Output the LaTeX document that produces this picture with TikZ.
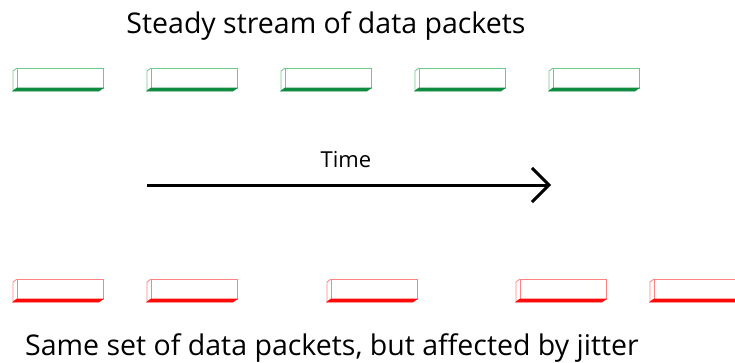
\documentclass[tikz,border=0pt]{standalone}
\usepackage{fontspec}
\setmainfont{Open Sans}
\usetikzlibrary{arrows.meta}
\definecolor{pktgreen}{RGB}{16,140,64}
\definecolor{pktgreenlt}{RGB}{110,200,140}
\definecolor{pktred}{RGB}{255,10,10}
\definecolor{pktredlt}{RGB}{255,130,130}
\tikzset{%
    caption text/.style={font=\fontsize{28.5}{32}\selectfont, anchor=base},
    packet edge/.style={line width=0.8pt, draw=#1},
}
% one packet at (#1,#2): #3 = edge colour, #4 = bottom colour
\newcommand{\packet}[4]{%
  \draw[packet edge=#3] (#1+5,#2) rectangle (#1+91,#2+20);
  \draw[packet edge=#3] (#1+5,#2) -- (#1+1,#2+3) -- (#1+1,#2+23) -- (#1+5,#2+20);
  \filldraw[line width=0.6pt,draw=#4,fill=#4] (#1+1,#2+23) -- (#1+87,#2+23) -- (#1+91,#2+20) -- (#1+5,#2+20) -- cycle;
}

\begin{document}
\begin{tikzpicture}[x=1pt,y=-1pt]
\clip (0,0) rectangle (735,362);

\node[caption text] (title) at (326,33) {Steady stream of data packets};
\node[caption text] (caption) at (332,355) {Same set of data packets, but affected by jitter};

\foreach \x in {12,146,280,414,548} {\packet{\x}{68}{pktgreenlt}{pktgreen}}

\foreach \x in {12,146,326,515,649} {\packet{\x}{279}{pktredlt}{pktred}}

\coordinate (t0) at (147,185);
\coordinate (t1) at (551,185);
\draw[line width=3pt,-{Straight Barb[length=17pt,width=34pt,line width=3pt]}] (t0) -- (t1);
\node[font=\fontsize{22}{26}\selectfont, anchor=base] (time) at (346,167) {Time};
\end{tikzpicture}
\end{document}
